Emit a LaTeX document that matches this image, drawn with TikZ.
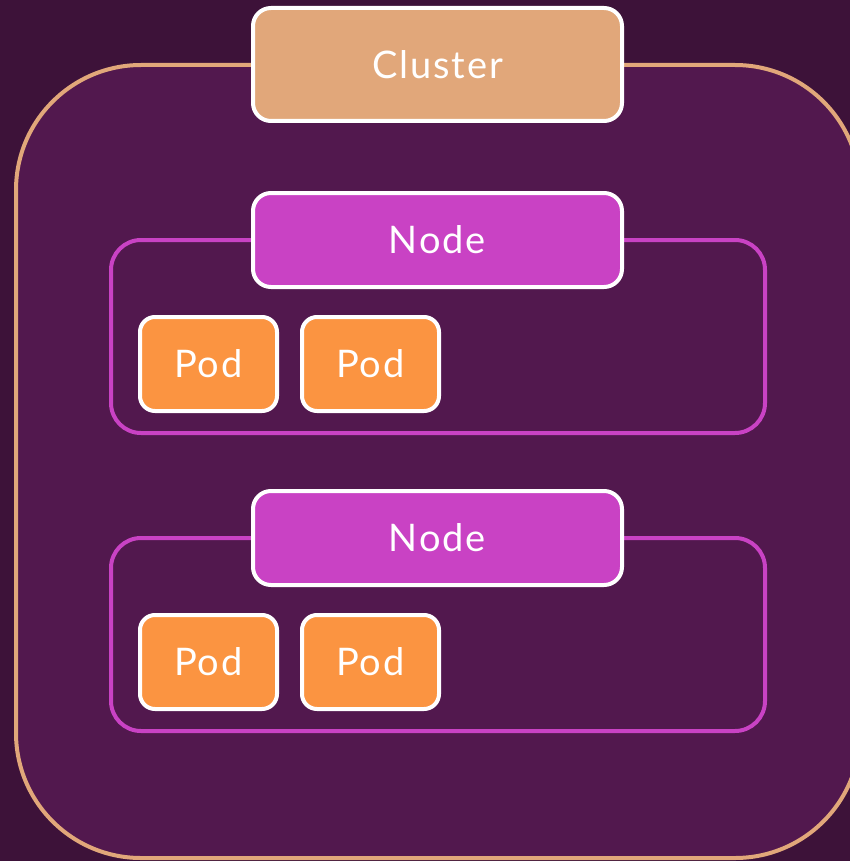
\documentclass[tikz,border=0pt]{standalone}
\usepackage{fontspec}
\setmainfont{Lato}[LetterSpace=5]
\definecolor{bgdark}{HTML}{3D1239}
\definecolor{panel}{HTML}{52184E}
\definecolor{tan}{HTML}{E1A77A}
\definecolor{magenta}{HTML}{C942C4}
\definecolor{podorange}{HTML}{FB9441}
\tikzset{
  labelbox/.style={draw=white, line width=4pt, rounded corners=18pt, text=white,
    font=\fontsize{38}{40}\selectfont, inner sep=0pt},
  clusterlabel/.style={labelbox, fill=tan, minimum width=369pt, minimum height=113pt},
  nodelabel/.style={labelbox, fill=magenta, minimum width=369pt, minimum height=94pt},
  podbox/.style={labelbox, fill=podorange, rounded corners=15pt, minimum width=137pt, minimum height=94pt},
  frame/.style={line width=4pt, rounded corners=30pt, draw=magenta},
}
\begin{document}
\begin{tikzpicture}[x=1pt, y=-1pt]
  % page and background
  \useasboundingbox (0,0) rectangle (850,861);
  \clip (0,0) rectangle (850,861);
  \fill[bgdark] (0,0) rectangle (850,861);

  % cluster panel
  \draw[fill=panel, draw=tan, line width=4pt, rounded corners=125pt] (16,65) rectangle (860,858);

  % worker machine frames
  \draw[frame] (111,240) rectangle (765,433);
  \draw[frame] (111,538) rectangle (765,731);

  % labels
  \node[clusterlabel] (cluster) at (437.5,64.5) {Cluster};
  \node[nodelabel] (node1) at (437.5,240) {Node};
  \node[nodelabel] (node2) at (437.5,538) {Node};

  \node[podbox] (pod11) at (208.5,364) {Pod};
  \node[podbox] (pod12) at (370.5,364) {Pod};
  \node[podbox] (pod21) at (208.5,662) {Pod};
  \node[podbox] (pod22) at (370.5,662) {Pod};
\end{tikzpicture}
\end{document}
